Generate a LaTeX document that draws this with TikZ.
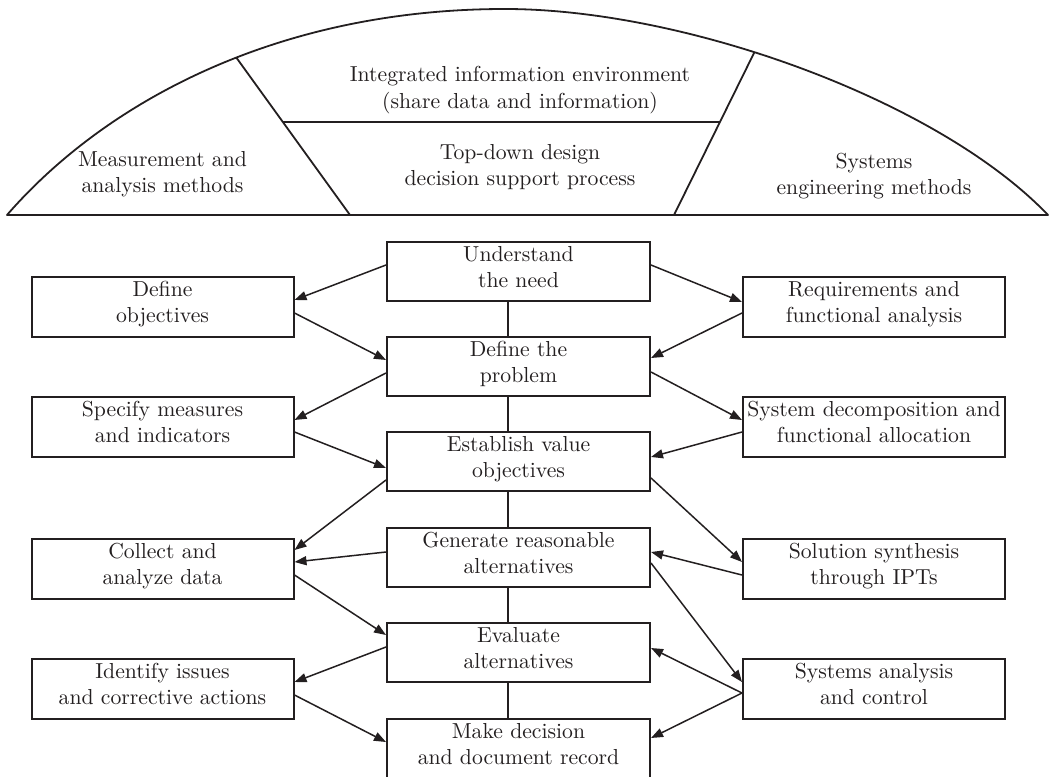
\documentclass[tikz,border=0pt]{standalone}
\usepackage{fontspec}
% the 10pt design of Latin Modern keeps its wide proportions at large sizes
\setmainfont{lmroman10-regular.otf}[BoldFont=lmroman10-bold.otf]
\usetikzlibrary{arrows.meta,calc}
\definecolor{ink}{HTML}{231F20}
% strut with 15pt height and 10pt depth keeps two-line labels on a 25pt grid
\newcommand\vstrut{\rule[-10pt]{0pt}{25pt}}
\newcommand\twoline[2]{\vstrut#1\\\vstrut#2}
\begin{document}
\begin{tikzpicture}[x=1pt,y=-1pt,
  every node/.style={font=\fontsize{21.7}{25}\selectfont, text=ink, align=center, inner sep=0pt},
  box/.style={draw=ink, line width=2pt},
  mid/.style={box, minimum width=263pt, minimum height=59pt},
  side/.style={box, minimum width=262pt, minimum height=60pt},
  flow/.style={draw=ink, line width=1.5pt, -{Triangle[length=12pt,width=9pt]}},
  link/.style={draw=ink, line width=2pt},
  frame/.style={draw=ink, line width=1.8pt, line join=round}]

\useasboundingbox (0,0) rectangle (1051,776);

% dome of supporting methods
\draw[frame] (7,215) .. controls (107,100) and (280,9) .. coordinate[pos=0.553] (lt) (505,9)
  .. controls (685,9) and (938,100) .. coordinate[pos=0.42] (rt) (1048,215) -- cycle;
\coordinate (lb) at (350,215);
\coordinate (rb) at (674,215);
\draw[frame] (lt) -- (lb);
\draw[frame] (rt) -- (rb);
\draw[frame] (intersection of lt--lb and 0,122--1000,122) -- (intersection of rt--rb and 0,122--1000,122);

\node (meth) at (162.5,177) {\twoline{Measurement and}{analysis methods}};
\node (info) at (520,92) {\twoline{Integrated information environment}{(share data and information)}};
\node (topdown) at (520,170) {\twoline{Top-down design}{decision support process}};
\node (semeth) at (874,178.5) {\twoline{Systems}{engineering methods}};

% central decision process
\node[mid] (need) at (518.5,271.5) {\twoline{Understand}{the need}};
\node[mid] (prob) at (518.5,366.5) {\twoline{Define the}{problem}};
\node[mid] (value) at (518.5,461.5) {\twoline{Establish value}{objectives}};
\node[mid] (alts) at (518.5,557.5) {\twoline{Generate reasonable}{alternatives}};
\node[mid] (eval) at (518.5,652.5) {\twoline{Evaluate}{alternatives}};
\node[mid] (decide) at (518.5,748.5) {\twoline{Make decision}{and document record}};

% measurement and analysis column
\node[side] (obj) at (162.5,307) {\twoline{Define}{objectives}};
\node[side] (meas) at (162.5,426.5) {\twoline{Specify measures}{and indicators}};
\node[side] (data) at (162.5,569) {\twoline{Collect and}{analyze data}};
\node[side] (issues) at (162.5,689) {\twoline{Identify issues}{and corrective actions}};

% systems engineering column
\node[side] (req) at (874,307) {\twoline{Requirements and}{functional analysis}};
\node[side] (decomp) at (874,427) {\twoline{System decomposition and}{functional allocation}};
\node[side] (synth) at (874,569) {\twoline{Solution synthesis}{through IPTs}};
\node[side] (ctrl) at (874,689) {\twoline{Systems analysis}{and control}};

% spine of the central column
\foreach \a/\b in {need/prob, prob/value, value/alts, alts/eval, eval/decide}
  \draw[link] ($(\a.south)+(-11,0)$) -- ($(\b.north)+(-11,0)$);

% left exchanges
\draw[flow] ($(need.west)+(0,-6.5)$) -- ($(obj.east)+(0,-7)$);
\draw[flow] ($(obj.east)+(0,6)$) -- ($(prob.west)+(0,-6.5)$);
\draw[flow] ($(prob.west)+(0,6.5)$) -- ($(meas.east)+(0,-6.5)$);
\draw[flow] ($(meas.east)+(0,5.5)$) -- ($(value.west)+(0,6.5)$);
\draw[flow] ($(value.west)+(0,18.5)$) -- ($(data.east)+(0,-19)$);
\draw[flow] ($(alts.west)+(0,-5.5)$) -- ($(data.east)+(0,-7)$);
\draw[flow] ($(data.east)+(0,6)$) -- ($(eval.west)+(0,-17.5)$);
\draw[flow] ($(eval.west)+(0,-5.5)$) -- ($(issues.east)+(0,-7)$);
\draw[flow] ($(issues.east)+(0,6)$) -- ($(decide.west)+(0,-6.5)$);

% right exchanges
\draw[flow] ($(need.east)+(0,-6.5)$) -- ($(req.west)+(0,-5)$);
\draw[flow] ($(req.west)+(0,6)$) -- ($(prob.east)+(0,-8.5)$);
\draw[flow] ($(prob.east)+(0,5.5)$) -- ($(decomp.west)+(0,-7)$);
\draw[flow] ($(decomp.west)+(0,5)$) -- ($(value.east)+(0,-4.5)$);
\draw[flow] ($(value.east)+(0,16.5)$) -- ($(synth.west)+(0,-7)$);
\draw[flow] ($(synth.west)+(0,6)$) -- ($(alts.east)+(0,-5.5)$);
\draw[flow] ($(alts.east)+(0,5.5)$) -- ($(ctrl.west)+(0,-7)$);
\draw[flow] ($(ctrl.west)+(0,4)$) -- ($(eval.east)+(0,-4.5)$);
\draw[flow] ($(ctrl.west)+(0,4)$) -- ($(decide.east)+(0,-10.5)$);
\end{tikzpicture}
\end{document}
